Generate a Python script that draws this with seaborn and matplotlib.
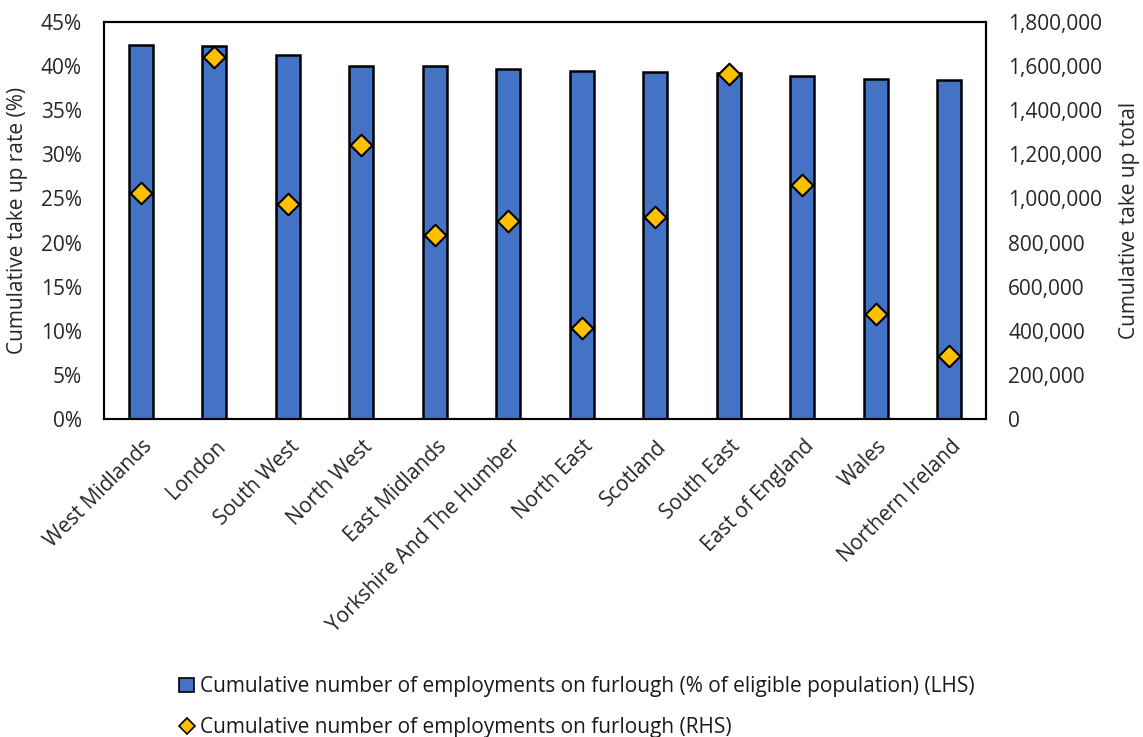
import numpy as np
import pandas as pd
import matplotlib
matplotlib.use("Agg")
import matplotlib.pyplot as plt
import matplotlib.transforms as mtransforms
from matplotlib.ticker import FuncFormatter, MultipleLocator
from matplotlib.lines import Line2D
from matplotlib.patches import Patch
import seaborn as sns

# --------------------------
# Data
# --------------------------

regions = [
    "West Midlands", "London", "South West", "North West", "East Midlands",
    "Yorkshire And The Humber", "North East", "Scotland", "South East",
    "East of England", "Wales", "Northern Ireland",
]

take_up_rate = [42.4, 42.2, 41.2, 40.0, 40.0, 39.7, 39.4, 39.3, 39.2, 38.8, 38.5, 38.4]

take_up_total = [1026000, 1639000, 973000, 1240000, 834000, 898000,
                 415000, 914000, 1563000, 1061000, 475000, 288000]

df = pd.DataFrame({"region": regions, "rate": take_up_rate, "total": take_up_total})

bar_color = "#4472C4"
dot_color = "#FFC000"
font_size = 15

# --------------------------
# Style
# --------------------------

sns.set_theme(style="white")
plt.rcParams["font.family"] = ["Open Sans", "DejaVu Sans"]
plt.rcParams["text.color"] = "#1a1a1a"

fig = plt.figure(figsize=(11.43, 7.37), dpi=100)
ax = fig.add_axes([104 / 1143, 1 - 419.3 / 737, 882 / 1143, 397.6 / 737])

sns.barplot(
    data=df,
    x="region",
    y="rate",
    color=bar_color,
    width=0.32,
    edgecolor="black",
    linewidth=1.8,
    saturation=1,
    ax=ax,
)

ax2 = ax.twinx()
sns.stripplot(
    data=df,
    x="region",
    y="total",
    jitter=False,
    marker="D",
    size=11,
    color=dot_color,
    edgecolor="black",
    linewidth=1.5,
    ax=ax2,
    zorder=5,
)

ax.set_xlim(-0.5, len(regions) - 0.5)
ax2.set_xlim(-0.5, len(regions) - 0.5)
ax.set_ylim(0, 45)
ax2.set_ylim(0, 1800000)

ax.yaxis.set_major_locator(MultipleLocator(5))
ax.yaxis.set_major_formatter(FuncFormatter(lambda v, p: f"{v:.0f}%"))
ax2.yaxis.set_major_locator(MultipleLocator(200000))
ax2.yaxis.set_major_formatter(FuncFormatter(lambda v, p: f"{v:,.0f}"))

ax.set_xlabel("")
ax.set_ylabel("Cumulative take up rate (%)", fontsize=font_size, labelpad=9)
ax2.set_ylabel("Cumulative take up total", fontsize=font_size, labelpad=12)

ax.tick_params(axis="y", length=0, pad=16, labelsize=font_size)
ax2.tick_params(axis="y", length=0, pad=16, labelsize=font_size)
ax.tick_params(axis="x", length=0, pad=12, labelsize=font_size)

offset = mtransforms.ScaledTranslation(1 / 100, 0, fig.dpi_scale_trans)
for lab in ax.get_xticklabels():
    lab.set_rotation(45)
    lab.set_ha("right")
    lab.set_va("top")
    lab.set_rotation_mode("anchor")
    lab.set_transform(lab.get_transform() + offset)

for a in (ax, ax2):
    for s in a.spines.values():
        s.set_color("black")
        s.set_linewidth(1.5)
        s.set_visible(True)
    a.grid(False)

# --------------------------
# Legend
# --------------------------

handles = [
    Patch(facecolor=bar_color, edgecolor="black", linewidth=1.2),
    Line2D([], [], marker="D", linestyle="none", markersize=8,
           markerfacecolor=dot_color, markeredgecolor="black", markeredgewidth=1.2),
]
labels = [
    "Cumulative number of employments on furlough (% of eligible population) (LHS)",
    "Cumulative number of employments on furlough (RHS)",
]
fig.legend(
    handles,
    labels,
    loc="upper left",
    bbox_to_anchor=(171 / 1143, 1 - 668 / 737),
    frameon=False,
    fontsize=font_size,
    handlelength=0.72,
    handleheight=0.72,
    handletextpad=0.25,
    labelspacing=0.95,
    borderaxespad=0,
)

fig.savefig("out.png", dpi=100)
